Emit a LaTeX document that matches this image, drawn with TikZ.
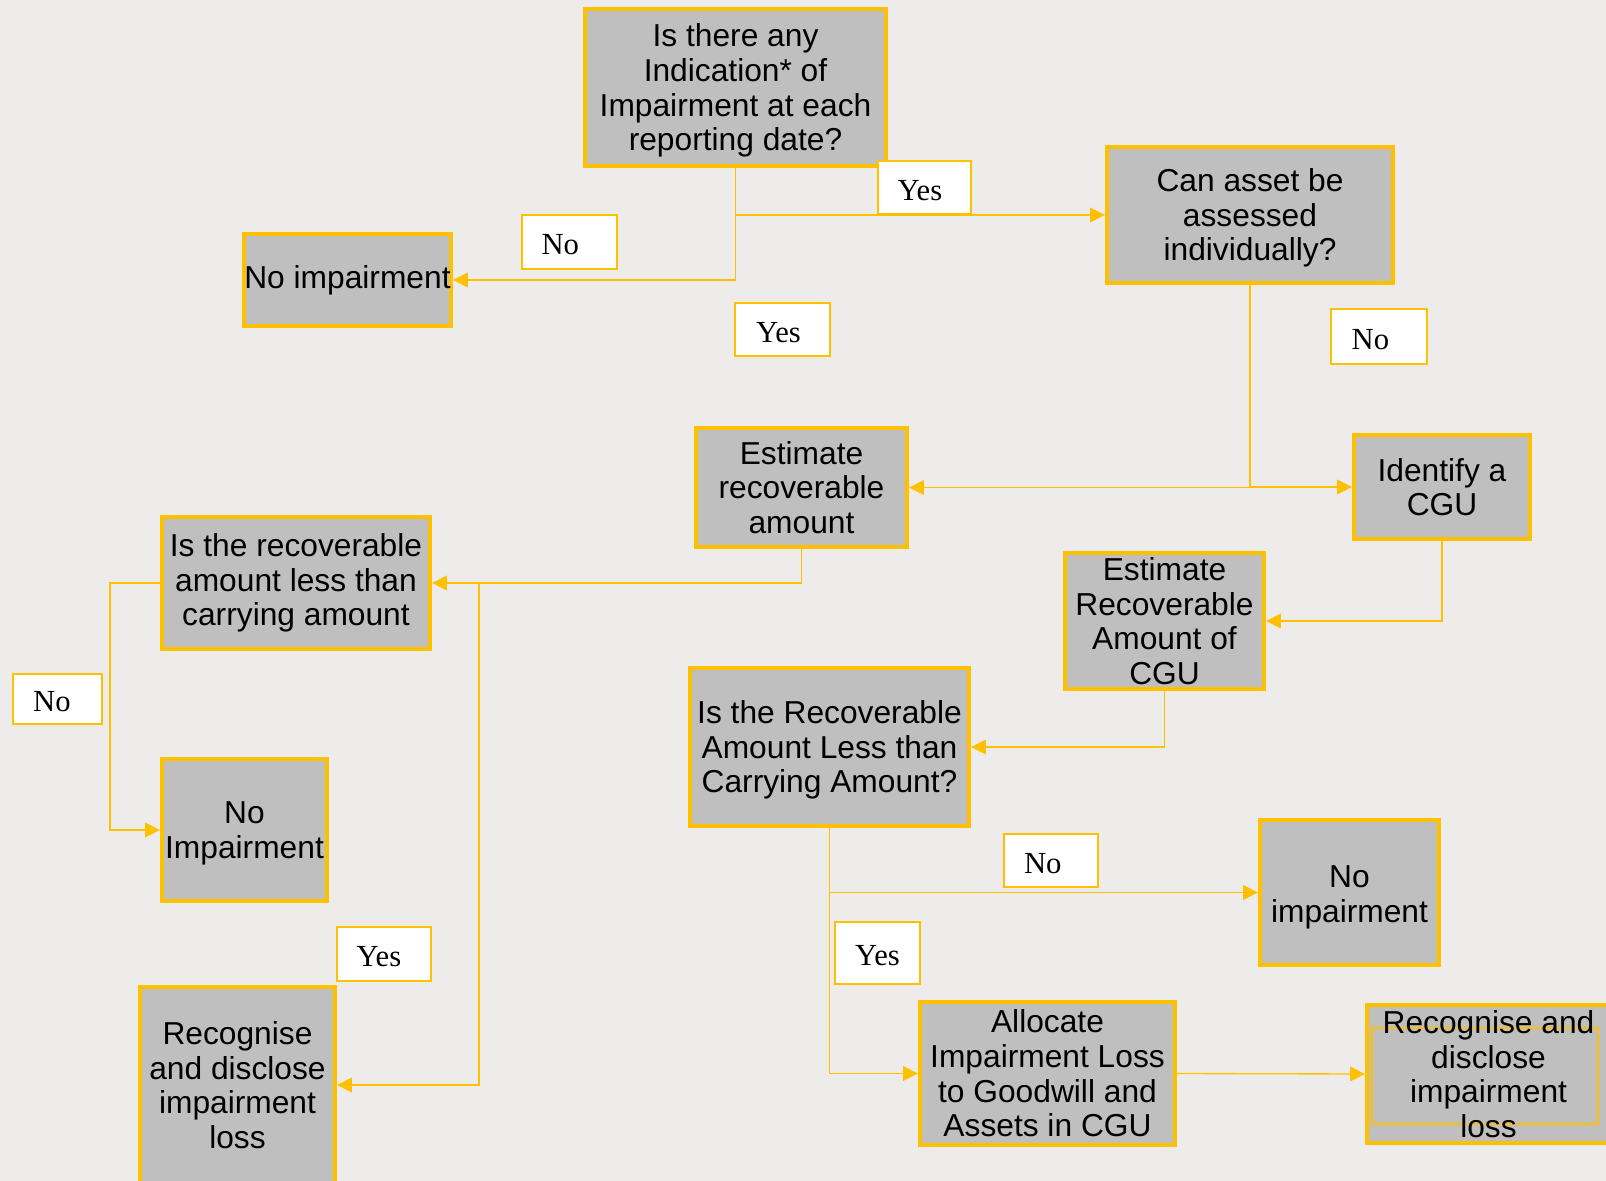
\documentclass[tikz,border=0pt]{standalone}
\usepackage{fontspec}
\setmainfont{Liberation Sans}
\newfontfamily\lserif{Liberation Serif}
\usetikzlibrary{arrows.meta}
\definecolor{bg}{RGB}{237,236,234}
\definecolor{gold}{RGB}{255,192,0}
\definecolor{boxgray}{RGB}{191,191,191}
\newcommand\txtdown[1]{\rule{0pt}{\dimexpr17.3pt+#1\relax}}
\begin{document}
\begin{tikzpicture}[x=0.75pt,y=-0.75pt,
  box/.style={draw=gold, line width=3.2pt, fill=boxgray, inner sep=0pt, align=center, font=\fontsize{23.8}{26}\selectfont},
  lbl/.style={draw=gold, line width=0.8pt, fill=white, inner sep=0pt, text height=19pt, text depth=0pt, font=\lserif\fontsize{23}{26}\selectfont},
  tx/.style={execute at begin node={\hspace*{#1}}},
  conn/.style={draw=gold, line width=1pt, -{Triangle[length=11pt,width=11pt]}},
  sz/.style 2 args={minimum width=#1*0.75pt, minimum height=#2*0.75pt}]
\useasboundingbox (0,0) rectangle (1606,1181);
\clip (0,0) rectangle (1606,1181);
\fill[bg] (0,0) rectangle (1606,1181);

% boxes
\node[box, sz={301}{157}] (q1) at (735.5,87.5) {\txtdown{4.5pt}Is there any\\Indication* of\\Impairment at each\\reporting date?};
\node[box, sz={286}{136}] (q2) at (1250,215) {\txtdown{4.5pt}Can asset be\\assessed\\individually?};
\node[box, sz={207}{92}] (noimp1) at (347.5,280) {No impairment};
\node[box, sz={211}{119}] (est) at (801.5,487.5) {Estimate\\recoverable\\amount};
\node[box, sz={176}{104}] (cgu) at (1442,487) {Identify a\\CGU};
\node[box, sz={268}{132}] (q3) at (296,583) {Is the recoverable\\amount less than\\carrying amount};
\node[box, sz={199}{136}] (estcgu) at (1164.5,621) {Estimate\\Recoverable\\Amount of\\CGU};
\node[box, sz={279}{158}] (q4) at (829.5,747) {\txtdown{4.5pt}Is the Recoverable\\Amount Less than\\Carrying Amount?};
\node[box, sz={165}{142}] (noimp2) at (244.5,830) {\txtdown{4.5pt}No\\Impairment};
\node[box, sz={195}{196}] (rec1) at (237.5,1085) {Recognise\\and disclose\\impairment\\loss};
\node[box, sz={179}{145}] (noimp3) at (1349.5,892.5) {\txtdown{6.8pt}No\\impairment};
\node[box, sz={255}{143}] (alloc) at (1047.5,1073.5) {Allocate\\Impairment Loss\\to Goodwill and\\Assets in CGU};
\node[box, sz={243}{138}, path picture={\draw[gold, line width=1pt] ([xshift=3.75pt,yshift=-17.25pt]path picture bounding box.north west) rectangle ([xshift=-9pt,yshift=14.25pt]path picture bounding box.south east);}] (rec2) at (1488.5,1074) {Recognise and\\disclose\\impairment\\loss};

% connectors
\draw[conn] (q1.south) |- (q2.west);
\draw[conn] (q1.south) |- (noimp1.east);
\draw[conn] (q2.south) |- (est.east);
\draw[conn] (q2.south) |- (cgu.west);
\draw[conn] (est.south) |- (q3.east);
\coordinate (j1) at (479,583);
\draw[conn] (j1) |- (rec1.east);
\draw[conn] (q3.west) -- ++(-50,0) |- (noimp2.west);
\draw[conn] (cgu.south) |- (estcgu.east);
\draw[conn] (estcgu.south) |- (q4.east);
\draw[conn] (q4.south) |- (noimp3.west);
\draw[conn] (q4.south) |- (alloc.west);
\draw[conn] (alloc.east) -- (rec2.west);

% labels
\node[lbl, tx=-6.9pt, sz={93}{53}] (yes1) at (924.5,187.5) {Yes};
\node[lbl, tx=-13.8pt, sz={95}{54}] (no1) at (569.5,242) {No};
\node[lbl, tx=-6pt, sz={95}{53}] (yes2) at (782.5,329.5) {Yes};
\node[lbl, tx=-13pt, sz={96}{55}] (no2) at (1379,336.5) {No};
\node[lbl, tx=-8.4pt, sz={89}{50}] (noL) at (57.5,699) {No};
\node[lbl, tx=-7.7pt, sz={94}{54}] (yesBL) at (384,954) {Yes};
\node[lbl, tx=-12.3pt, sz={94}{53}] (noR) at (1051,860.5) {No};
\node[lbl, sz={85}{62}] (yesR) at (877.5,953) {Yes};
\end{tikzpicture}
\end{document}
